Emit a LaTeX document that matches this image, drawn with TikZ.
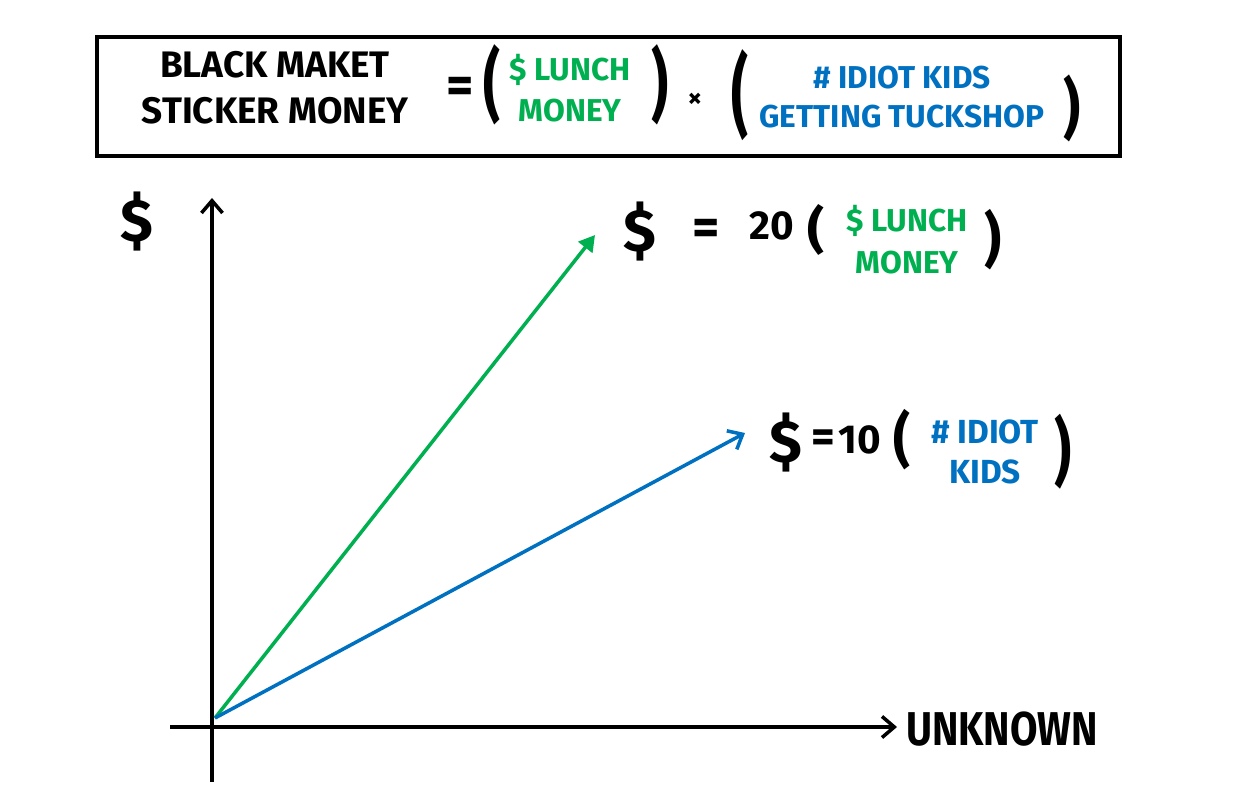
\documentclass[tikz,border=0pt]{standalone}
\usepackage{fontspec}
\setmainfont{Fira Sans}
\usetikzlibrary{arrows.meta}
\definecolor{lunchgreen}{RGB}{0,176,80}
\definecolor{kidsblue}{RGB}{0,112,192}
\newcommand{\tallparen}[2]{\scalebox{1}[#1]{#2}}

\begin{document}
\begin{tikzpicture}[x=0.02cm,y=-0.02cm,
  blacktext/.style={font=\fontsize{21}{26}\selectfont\bfseries,align=center,inner sep=0pt},
  greentext/.style={font=\fontsize{18}{23}\selectfont\bfseries,align=center,inner sep=0pt,text=lunchgreen},
  bluetext/.style={font=\fontsize{18}{22}\selectfont\bfseries,align=center,inner sep=0pt,text=kidsblue},
  eqsign/.style={font=\fontsize{30}{30}\selectfont\bfseries,inner sep=0pt},
  dollar/.style={font=\fontsize{34}{34}\selectfont\bfseries,inner sep=0pt},
  paren/.style={font=\fontsize{30}{30}\selectfont\bfseries,inner sep=0pt},
  axis/.style={line width=2pt,-{Straight Barb[length=7pt,width=12pt,line width=2pt]}},
  vec/.style={line width=2pt}]
  \useasboundingbox (0,0) rectangle (1250,810);
  % the equation box
  \draw[line width=2pt] (97,37) rectangle (1120,156);
  \node[blacktext] (lhs) at (275,88) {BLACK MAKET\\STICKER MONEY};
  \node[eqsign] (eq) at (460,90) {=};
  \node[paren] (lp1) at (492,85) {\tallparen{1.5}{(}};
  \node[greentext] (lunch) at (570,88) {\$ LUNCH\\MONEY};
  \node[paren] (rp1) at (660,85) {\tallparen{1.5}{)}};
  \node[blacktext,font=\fontsize{16}{16}\selectfont\bfseries] (times) at (695,100) {×};
  \node[paren] (lp2) at (740,95) {\tallparen{1.7}{(}};
  \node[bluetext] (kids) at (902,97) {\# IDIOT KIDS\\GETTING TUCKSHOP};
  \node[paren] (rp2) at (1072,108) {\tallparen{1.25}{)}};

  % axes
  \coordinate (O) at (212,727);
  \coordinate (ytop) at (212,198);
  \coordinate (ybot) at (212,782);
  \coordinate (xleft) at (170,727);
  \coordinate (xright) at (897,727);
  \draw[axis] (ybot) -- (ytop);
  \draw[axis] (xleft) -- (xright);
  \node[blacktext,font=\fontsize{27}{27}\selectfont\bfseries,anchor=west] (xlabel) at (906,729) {\scalebox{0.84}[1]{UNKNOWN}};
  \node[dollar] (ylabel) at (137,222) {\$};

  % the two lines
  \coordinate (start) at (215,718);
  \coordinate (gtip) at (595,235);
  \coordinate (btip) at (745,433);
  \draw[vec,lunchgreen,-{Triangle[length=9pt,width=10pt]}] (start) -- (gtip);
  \draw[vec,kidsblue,-{Straight Barb[length=7pt,width=12pt,line width=2pt]}] (start) -- (btip);

  % green label
  \node[dollar] (gd) at (640,232) {\$};
  \node[eqsign] (geq) at (706,232) {=};
  \node[blacktext,font=\fontsize{23}{23}\selectfont\bfseries] (g20) at (772,226) {20};
  \node[paren] (glp) at (816,230) {\tallparen{0.95}{(}};
  \node[greentext,font=\fontsize{18}{24}\selectfont\bfseries] (glunch) at (907,240) {\$ LUNCH\\MONEY};
  \node[paren] (grp) at (993,240) {\tallparen{1.13}{)}};

  % blue label
  \node[dollar] (bd) at (786,443) {\$};
  \node[eqsign,font=\fontsize{26}{26}\selectfont\bfseries] (beq) at (823,441) {=};
  \node[blacktext,font=\fontsize{23}{23}\selectfont\bfseries] (b10) at (860,440) {10};
  \node[paren] (blp) at (902,440) {\tallparen{1.13}{(}};
  \node[bluetext,font=\fontsize{19}{23}\selectfont\bfseries] (bkids) at (985,452) {\# IDIOT\\KIDS};
  \node[paren] (brp) at (1063,452) {\tallparen{1.4}{)}};
\end{tikzpicture}
\end{document}
